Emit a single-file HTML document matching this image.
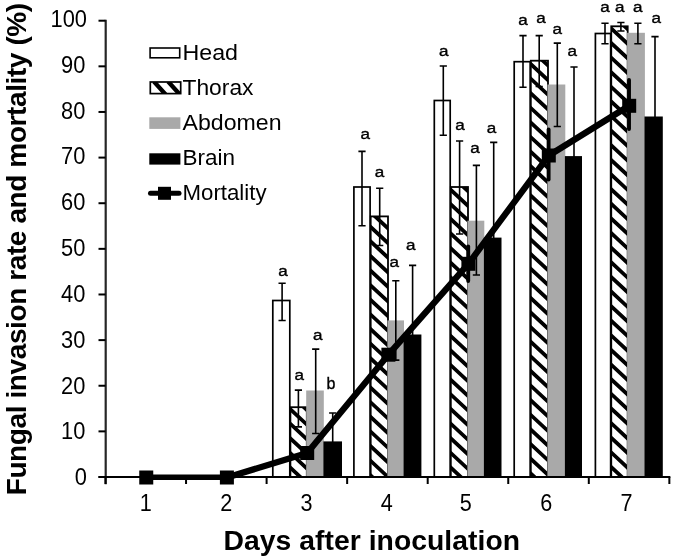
<!DOCTYPE html>
<html><head><meta charset="utf-8"><title>Fungal invasion rate and mortality</title>
<style>html,body{margin:0;padding:0;background:#fff}body{width:675px;height:560px;overflow:hidden}svg{display:block;will-change:transform}text{font-family:"Liberation Sans",sans-serif;fill:#000}</style>
</head><body>
<svg width="675" height="560" viewBox="0 0 675 560">
<rect x="0" y="0" width="675" height="560" fill="#fff"/>
<defs>
<clipPath id="cl3"><rect x="290.40" y="407.20" width="16.40" height="69.80"/></clipPath>
<clipPath id="cl4"><rect x="370.70" y="216.40" width="17.30" height="260.60"/></clipPath>
<clipPath id="cl5"><rect x="450.80" y="187.00" width="17.20" height="290.00"/></clipPath>
<clipPath id="cl6"><rect x="530.80" y="60.70" width="17.20" height="416.30"/></clipPath>
<clipPath id="cl7"><rect x="611.25" y="26.30" width="16.45" height="450.70"/></clipPath>
<clipPath id="lc"><rect x="150.3" y="82.0" width="30.4" height="11.6"/></clipPath>
</defs>
<g id="bars">
<rect x="272.80" y="300.50" width="17.00" height="176.50" fill="#fff" stroke="#000" stroke-width="1.70"/>
<g clip-path="url(#cl3)" stroke="#000" stroke-width="3.80">
<path d="M287.40 362.63L309.80 383.47M287.40 377.25L309.80 398.09M287.40 391.87L309.80 412.71M287.40 406.49L309.80 427.33M287.40 421.11L309.80 441.95M287.40 435.73L309.80 456.57M287.40 450.35L309.80 471.19M287.40 464.97L309.80 485.81M287.40 479.59L309.80 500.43M287.40 494.21L309.80 515.05M287.40 508.83L309.80 529.67" fill="none"/>
</g>
<rect x="290.40" y="407.20" width="16.40" height="69.80" fill="none" stroke="#000" stroke-width="1.80"/>
<rect x="306.20" y="390.50" width="17.60" height="86.50" fill="#a9a9a9"/>
<rect x="323.40" y="441.40" width="18.60" height="35.60" fill="#000"/>
<rect x="353.90" y="187.00" width="16.20" height="290.00" fill="#fff" stroke="#000" stroke-width="1.70"/>
<g clip-path="url(#cl4)" stroke="#000" stroke-width="3.80">
<path d="M367.70 180.31L391.00 201.98M367.70 194.93L391.00 216.60M367.70 209.55L391.00 231.22M367.70 224.17L391.00 245.84M367.70 238.79L391.00 260.46M367.70 253.41L391.00 275.08M367.70 268.03L391.00 289.70M367.70 282.65L391.00 304.32M367.70 297.27L391.00 318.94M367.70 311.89L391.00 333.56M367.70 326.51L391.00 348.18M367.70 341.13L391.00 362.80M367.70 355.75L391.00 377.42M367.70 370.37L391.00 392.04M367.70 384.99L391.00 406.66M367.70 399.61L391.00 421.28M367.70 414.23L391.00 435.90M367.70 428.85L391.00 450.52M367.70 443.47L391.00 465.14M367.70 458.09L391.00 479.76M367.70 472.71L391.00 494.38M367.70 487.33L391.00 509.00M367.70 501.95L391.00 523.62M367.70 516.57L391.00 538.24" fill="none"/>
</g>
<rect x="370.70" y="216.40" width="17.30" height="260.60" fill="none" stroke="#000" stroke-width="1.80"/>
<rect x="387.40" y="320.40" width="16.60" height="156.60" fill="#a9a9a9"/>
<rect x="403.60" y="334.50" width="17.80" height="142.50" fill="#000"/>
<rect x="434.30" y="100.50" width="15.90" height="376.50" fill="#fff" stroke="#000" stroke-width="1.70"/>
<g clip-path="url(#cl5)" stroke="#000" stroke-width="3.80">
<path d="M447.80 143.18L471.00 164.76M447.80 157.80L471.00 179.38M447.80 172.42L471.00 194.00M447.80 187.04L471.00 208.62M447.80 201.66L471.00 223.24M447.80 216.28L471.00 237.86M447.80 230.90L471.00 252.48M447.80 245.52L471.00 267.10M447.80 260.14L471.00 281.72M447.80 274.76L471.00 296.34M447.80 289.38L471.00 310.96M447.80 304.00L471.00 325.58M447.80 318.62L471.00 340.20M447.80 333.24L471.00 354.82M447.80 347.86L471.00 369.44M447.80 362.48L471.00 384.06M447.80 377.10L471.00 398.68M447.80 391.72L471.00 413.30M447.80 406.34L471.00 427.92M447.80 420.96L471.00 442.54M447.80 435.58L471.00 457.16M447.80 450.20L471.00 471.78M447.80 464.82L471.00 486.40M447.80 479.44L471.00 501.02M447.80 494.06L471.00 515.64M447.80 508.68L471.00 530.26" fill="none"/>
</g>
<rect x="450.80" y="187.00" width="17.20" height="290.00" fill="none" stroke="#000" stroke-width="1.80"/>
<rect x="467.40" y="220.70" width="16.90" height="256.30" fill="#a9a9a9"/>
<rect x="483.90" y="237.60" width="17.60" height="239.40" fill="#000"/>
<rect x="514.20" y="61.70" width="16.00" height="415.30" fill="#fff" stroke="#000" stroke-width="1.70"/>
<g clip-path="url(#cl6)" stroke="#000" stroke-width="3.80">
<path d="M527.80 17.47L551.00 39.05M527.80 32.09L551.00 53.67M527.80 46.71L551.00 68.29M527.80 61.33L551.00 82.91M527.80 75.95L551.00 97.53M527.80 90.57L551.00 112.15M527.80 105.19L551.00 126.77M527.80 119.81L551.00 141.39M527.80 134.43L551.00 156.01M527.80 149.05L551.00 170.63M527.80 163.67L551.00 185.25M527.80 178.29L551.00 199.87M527.80 192.91L551.00 214.49M527.80 207.53L551.00 229.11M527.80 222.15L551.00 243.73M527.80 236.77L551.00 258.35M527.80 251.39L551.00 272.97M527.80 266.01L551.00 287.59M527.80 280.63L551.00 302.21M527.80 295.25L551.00 316.83M527.80 309.87L551.00 331.45M527.80 324.49L551.00 346.07M527.80 339.11L551.00 360.69M527.80 353.73L551.00 375.31M527.80 368.35L551.00 389.93M527.80 382.97L551.00 404.55M527.80 397.59L551.00 419.17M527.80 412.21L551.00 433.79M527.80 426.83L551.00 448.41M527.80 441.45L551.00 463.03M527.80 456.07L551.00 477.65M527.80 470.69L551.00 492.27M527.80 485.31L551.00 506.89M527.80 499.93L551.00 521.51M527.80 514.55L551.00 536.13" fill="none"/>
</g>
<rect x="530.80" y="60.70" width="17.20" height="416.30" fill="none" stroke="#000" stroke-width="1.80"/>
<rect x="547.40" y="84.50" width="17.90" height="392.50" fill="#a9a9a9"/>
<rect x="564.90" y="156.10" width="17.10" height="320.90" fill="#000"/>
<rect x="595.40" y="33.50" width="15.25" height="443.50" fill="#fff" stroke="#000" stroke-width="1.70"/>
<g clip-path="url(#cl7)" stroke="#000" stroke-width="3.80">
<path d="M608.25 -18.16L630.70 2.72M608.25 -3.54L630.70 17.34M608.25 11.08L630.70 31.96M608.25 25.70L630.70 46.58M608.25 40.32L630.70 61.20M608.25 54.94L630.70 75.82M608.25 69.56L630.70 90.44M608.25 84.18L630.70 105.06M608.25 98.80L630.70 119.68M608.25 113.42L630.70 134.30M608.25 128.04L630.70 148.92M608.25 142.66L630.70 163.54M608.25 157.28L630.70 178.16M608.25 171.90L630.70 192.78M608.25 186.52L630.70 207.40M608.25 201.14L630.70 222.02M608.25 215.76L630.70 236.64M608.25 230.38L630.70 251.26M608.25 245.00L630.70 265.88M608.25 259.62L630.70 280.50M608.25 274.24L630.70 295.12M608.25 288.86L630.70 309.74M608.25 303.48L630.70 324.36M608.25 318.10L630.70 338.98M608.25 332.72L630.70 353.60M608.25 347.34L630.70 368.22M608.25 361.96L630.70 382.84M608.25 376.58L630.70 397.46M608.25 391.20L630.70 412.08M608.25 405.82L630.70 426.70M608.25 420.44L630.70 441.32M608.25 435.06L630.70 455.94M608.25 449.68L630.70 470.56M608.25 464.30L630.70 485.18M608.25 478.92L630.70 499.80M608.25 493.54L630.70 514.42M608.25 508.16L630.70 529.04" fill="none"/>
</g>
<rect x="611.25" y="26.30" width="16.45" height="450.70" fill="none" stroke="#000" stroke-width="1.80"/>
<rect x="627.10" y="32.80" width="17.80" height="444.20" fill="#a9a9a9"/>
<rect x="644.50" y="116.50" width="18.30" height="360.50" fill="#000"/>
</g>
<g id="errs" stroke="#000" stroke-width="1.6" fill="none">
<path d="M282.10 282.70V321.00M278.50 283.20h7.2M278.50 320.50h7.2"/>
<path d="M298.40 389.60V427.40M294.80 390.10h7.2M294.80 426.90h7.2"/>
<path d="M315.70 348.60V434.00M312.10 349.10h7.2M312.10 433.50h7.2"/>
<path d="M332.70 412.50V470.30M329.10 413.00h7.2M329.10 469.80h7.2"/>
<path d="M362.00 150.90V226.20M358.40 151.40h7.2M358.40 225.70h7.2"/>
<path d="M379.70 187.80V246.00M376.10 188.30h7.2M376.10 245.50h7.2"/>
<path d="M395.80 280.20V360.60M392.20 280.70h7.2M392.20 360.10h7.2"/>
<path d="M412.60 264.90V404.00M409.00 265.40h7.2M409.00 403.50h7.2"/>
<path d="M443.30 65.50V135.80M439.70 66.00h7.2M439.70 135.30h7.2"/>
<path d="M459.60 140.50V234.50M456.00 141.00h7.2M456.00 234.00h7.2"/>
<path d="M476.40 164.90V275.50M472.80 165.40h7.2M472.80 275.00h7.2"/>
<path d="M493.70 141.90V333.00M490.10 142.40h7.2M490.10 332.50h7.2"/>
<path d="M523.00 35.10V87.80M519.40 35.60h7.2M519.40 87.30h7.2"/>
<path d="M539.20 35.10V87.00M535.60 35.60h7.2M535.60 86.50h7.2"/>
<path d="M557.30 42.60V127.00M553.70 43.10h7.2M553.70 126.50h7.2"/>
<path d="M574.00 66.50V246.00M570.40 67.00h7.2M570.40 245.50h7.2"/>
<path d="M605.00 22.80V44.20M601.40 23.30h7.2M601.40 43.70h7.2"/>
<path d="M620.90 22.00V31.50M617.30 22.50h7.2M617.30 31.00h7.2"/>
<path d="M637.90 22.80V44.20M634.30 23.30h7.2M634.30 43.70h7.2"/>
<path d="M655.00 36.10V197.00M651.40 36.60h7.2M651.40 196.50h7.2"/>
</g>
<g id="axes" stroke="#000" stroke-width="2" fill="none">
<path d="M105.70 19.7V484.3" stroke="#262626" stroke-width="2.2"/>
<path d="M98.5 477.00H670.35"/>
<path d="M98.5 477.00H105.50"/>
<path d="M98.5 431.37H105.50"/>
<path d="M98.5 385.74H105.50"/>
<path d="M98.5 340.11H105.50"/>
<path d="M98.5 294.48H105.50"/>
<path d="M98.5 248.85H105.50"/>
<path d="M98.5 203.22H105.50"/>
<path d="M98.5 157.59H105.50"/>
<path d="M98.5 111.96H105.50"/>
<path d="M98.5 66.33H105.50"/>
<path d="M98.5 20.70H105.50"/>
<path d="M105.50 477.00V484"/>
<path d="M186.05 477.00V484"/>
<path d="M266.60 477.00V484"/>
<path d="M347.15 477.00V484"/>
<path d="M427.70 477.00V484"/>
<path d="M508.25 477.00V484"/>
<path d="M588.80 477.00V484"/>
<path d="M669.35 477.00V484"/>
</g>
<g id="ylab" font-size="24" text-anchor="end">
<text transform="translate(87.0 485.30) scale(0.91 1)">0</text>
<text transform="translate(85.4 439.47) scale(0.91 1)">10</text>
<text transform="translate(85.4 393.64) scale(0.91 1)">20</text>
<text transform="translate(85.4 347.81) scale(0.91 1)">30</text>
<text transform="translate(85.4 301.98) scale(0.91 1)">40</text>
<text transform="translate(85.4 256.15) scale(0.91 1)">50</text>
<text transform="translate(85.4 210.32) scale(0.91 1)">60</text>
<text transform="translate(85.4 164.49) scale(0.91 1)">70</text>
<text transform="translate(85.4 118.66) scale(0.91 1)">80</text>
<text transform="translate(85.4 72.83) scale(0.91 1)">90</text>
<text transform="translate(87.0 27.00) scale(0.91 1)">100</text>
</g>
<g id="xlab" font-size="24" text-anchor="middle">
<text transform="translate(145.65 510.8) scale(0.9 1)">1</text>
<text transform="translate(226.25 510.8) scale(0.9 1)">2</text>
<text transform="translate(306.50 510.8) scale(0.9 1)">3</text>
<text transform="translate(386.70 510.8) scale(0.9 1)">4</text>
<text transform="translate(465.80 510.8) scale(0.9 1)">5</text>
<text transform="translate(546.30 510.8) scale(0.9 1)">6</text>
<text transform="translate(626.50 510.8) scale(0.9 1)">7</text>
</g>
<g id="merr" stroke="#000" stroke-width="3.9" stroke-linecap="round" fill="none">
<path d="M468.20 246.50V281.10"/>
<path d="M548.60 129.50V179.50"/>
<path d="M629.00 79.90V129.10"/>
</g>
<path d="M146.25 477.2H226.90" stroke="#000" stroke-width="5.5" fill="none"/>
<polyline points="226.90,477.50 307.20,453.00 388.40,354.70 468.40,263.80 548.80,155.50 629.20,105.80" fill="none" stroke="#000" stroke-width="6.3" stroke-linejoin="round"/>
<rect x="139.25" y="470.50" width="14.00" height="14.00" fill="#000"/>
<rect x="219.90" y="470.50" width="14.00" height="14.00" fill="#000"/>
<rect x="300.20" y="446.00" width="14.00" height="14.00" fill="#000"/>
<rect x="381.40" y="347.70" width="14.00" height="14.00" fill="#000"/>
<rect x="461.40" y="256.80" width="14.00" height="14.00" fill="#000"/>
<rect x="541.80" y="148.50" width="14.00" height="14.00" fill="#000"/>
<rect x="622.20" y="98.80" width="14.00" height="14.00" fill="#000"/>
<g id="letters" font-size="16" text-anchor="middle" stroke="#000" stroke-width="0.35">
<text transform="translate(282.95 276.40) scale(1.17 1)" font-size="14.6">a</text>
<text transform="translate(299.25 380.00) scale(1.17 1)" font-size="14.6">a</text>
<text transform="translate(317.70 339.50) scale(1.17 1)" font-size="14.6">a</text>
<text x="330.90" y="388.75">b</text>
<text transform="translate(365.15 138.80) scale(1.17 1)" font-size="14.6">a</text>
<text transform="translate(379.60 177.20) scale(1.17 1)" font-size="14.6">a</text>
<text transform="translate(394.35 266.50) scale(1.17 1)" font-size="14.6">a</text>
<text transform="translate(410.80 250.40) scale(1.17 1)" font-size="14.6">a</text>
<text transform="translate(443.65 56.10) scale(1.17 1)" font-size="14.6">a</text>
<text transform="translate(460.00 129.50) scale(1.17 1)" font-size="14.6">a</text>
<text transform="translate(475.00 153.00) scale(1.17 1)" font-size="14.6">a</text>
<text transform="translate(491.45 133.20) scale(1.17 1)" font-size="14.6">a</text>
<text transform="translate(523.00 24.80) scale(1.17 1)" font-size="14.6">a</text>
<text transform="translate(540.95 23.00) scale(1.17 1)" font-size="14.6">a</text>
<text transform="translate(557.25 33.70) scale(1.17 1)" font-size="14.6">a</text>
<text transform="translate(572.20 55.60) scale(1.17 1)" font-size="14.6">a</text>
<text transform="translate(605.00 12.30) scale(1.17 1)" font-size="14.6">a</text>
<text transform="translate(619.85 12.30) scale(1.17 1)" font-size="14.6">a</text>
<text transform="translate(637.85 12.30) scale(1.17 1)" font-size="14.6">a</text>
<text transform="translate(656.20 22.80) scale(1.17 1)" font-size="14.6">a</text>
</g>
<g id="legend">
<rect x="150.1" y="48.0" width="29.6" height="9.8" fill="#fff" stroke="#000" stroke-width="1.6"/>
<g clip-path="url(#lc)"><path d="M153.9 81.5L165.6 94.5M168.1 81.5L179.8 94.5" stroke="#000" stroke-width="4.3"/></g>
<rect x="150.3" y="82.0" width="30.4" height="11.6" fill="none" stroke="#000" stroke-width="1.7"/>
<rect x="149.3" y="117.3" width="31.1" height="11.6" fill="#a9a9a9"/>
<rect x="149.3" y="153.3" width="31.1" height="11.3" fill="#000"/>
<path d="M150.5 193.3H179" stroke="#000" stroke-width="5" stroke-linecap="round"/>
<rect x="158" y="186.8" width="13" height="13" fill="#000"/>
<g font-size="21.5">
<text x="182.5" y="59.80" textLength="55.5" lengthAdjust="spacingAndGlyphs">Head</text>
<text x="182.5" y="94.80" textLength="71.0" lengthAdjust="spacingAndGlyphs">Thorax</text>
<text x="182.5" y="129.80" textLength="99.0" lengthAdjust="spacingAndGlyphs">Abdomen</text>
<text x="182.5" y="164.80" textLength="52.5" lengthAdjust="spacingAndGlyphs">Brain</text>
<text x="182.5" y="199.80" textLength="84.0" lengthAdjust="spacingAndGlyphs">Mortality</text>
</g></g>
<text id="xt" x="223.5" y="550.1" font-size="28.3" font-weight="bold" textLength="296.5" lengthAdjust="spacing">Days after inoculation</text>
<text id="yt" transform="translate(26.0 495.3) rotate(-90)" font-size="28" font-weight="bold" textLength="492.5" lengthAdjust="spacing">Fungal invasion rate and mortality (%)</text>
</svg></body></html>
